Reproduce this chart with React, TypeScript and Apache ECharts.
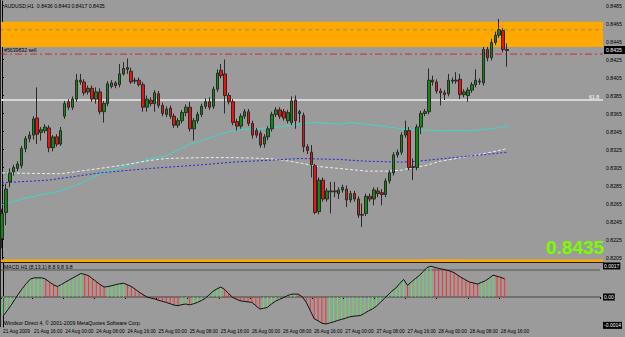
import React, { useEffect, useRef } from 'react';
import * as echarts from 'echarts';

const headerText = 'AUDUSD,H1  0.8436 0.8443 0.8417 0.8435';
const macdTitle = 'MACD H1 (8,13,1) 8.8 9.8 9.8';
const footerText = 'Windsor Direct 4, \u00a9 2001-2009 MetaQuotes Software Corp.';
const orderLabel = '#5639832 sell';
const fiboLabel = '61.8';
const lastPriceText = '0.8435';

const timeTickLabels = [
  '21 Aug 2009', '21 Aug 16:00', '24 Aug 00:00', '24 Aug 08:00', '24 Aug 16:00',
  '25 Aug 00:00', '25 Aug 08:00', '25 Aug 16:00', '26 Aug 00:00', '26 Aug 08:00',
  '26 Aug 16:00', '27 Aug 00:00', '27 Aug 08:00', '27 Aug 16:00', '28 Aug 00:00',
  '28 Aug 08:00', '28 Aug 16:00',
];

const priceTicks = [0.8205, 0.8225, 0.8245, 0.8265, 0.8285, 0.8305, 0.8325, 0.8345, 0.8365, 0.8385, 0.8405, 0.8425, 0.8445, 0.8465, 0.8485];

const opens = [
  0.8226, 0.8255, 0.8289, 0.8300, 0.8304, 0.8307, 0.8326, 0.8337, 0.8341, 0.8360,
  0.8344, 0.8346, 0.8349, 0.8327, 0.8339, 0.8331, 0.8362, 0.8378, 0.8372, 0.8381,
  0.8402, 0.8400, 0.8389, 0.8393, 0.8381, 0.8389, 0.8367, 0.8376, 0.8395, 0.8399,
  0.8397, 0.8409, 0.8416, 0.8412, 0.8401, 0.8402, 0.8397, 0.8372, 0.8380, 0.8376,
  0.8387, 0.8374, 0.8364, 0.8371, 0.8362, 0.8352, 0.8357, 0.8366, 0.8372, 0.8348,
  0.8357, 0.8364, 0.8373, 0.8378, 0.8373, 0.8392, 0.8413, 0.8409, 0.8385, 0.8378,
  0.8356, 0.8351, 0.8362, 0.8367, 0.8354, 0.8346, 0.8343, 0.8331, 0.8339, 0.8348,
  0.8364, 0.8369, 0.8367, 0.8357, 0.8355, 0.8380, 0.8365, 0.8363, 0.8328, 0.8322,
  0.8307, 0.8256, 0.8291, 0.8270, 0.8278, 0.8278, 0.8276, 0.8280, 0.8281, 0.8269,
  0.8276, 0.8270, 0.8253, 0.8254, 0.8273, 0.8270, 0.8279, 0.8277, 0.8275, 0.8290,
  0.8299, 0.8319, 0.8322, 0.8341, 0.8346, 0.8305, 0.8305, 0.8350, 0.8365, 0.8367,
  0.8402, 0.8400, 0.8390, 0.8388, 0.8387, 0.8402, 0.8401, 0.8403, 0.8386, 0.8385,
  0.8391, 0.8397, 0.8401, 0.8399, 0.8436, 0.8427, 0.8444, 0.8452, 0.8457, 0.8436,
];
const closes = [
  0.8254, 0.8281, 0.8299, 0.8305, 0.8309, 0.8326, 0.8337, 0.8341, 0.8359, 0.8342,
  0.8347, 0.8350, 0.8327, 0.8339, 0.8331, 0.8346, 0.8376, 0.8372, 0.8381, 0.8402,
  0.8400, 0.8388, 0.8393, 0.8381, 0.8389, 0.8367, 0.8376, 0.8398, 0.8399, 0.8396,
  0.8409, 0.8415, 0.8414, 0.8400, 0.8402, 0.8397, 0.8372, 0.8381, 0.8376, 0.8388,
  0.8374, 0.8365, 0.8370, 0.8362, 0.8352, 0.8357, 0.8366, 0.8372, 0.8348, 0.8357,
  0.8364, 0.8373, 0.8378, 0.8372, 0.8392, 0.8410, 0.8407, 0.8385, 0.8378, 0.8355,
  0.8351, 0.8362, 0.8367, 0.8354, 0.8341, 0.8341, 0.8330, 0.8339, 0.8348, 0.8364,
  0.8369, 0.8362, 0.8360, 0.8366, 0.8379, 0.8357, 0.8367, 0.8328, 0.8324, 0.8308,
  0.8255, 0.8291, 0.8270, 0.8279, 0.8279, 0.8279, 0.8280, 0.8283, 0.8269, 0.8276,
  0.8270, 0.8252, 0.8252, 0.8273, 0.8270, 0.8280, 0.8276, 0.8275, 0.8290, 0.8299,
  0.8319, 0.8322, 0.8341, 0.8346, 0.8305, 0.8306, 0.8350, 0.8365, 0.8367, 0.8402,
  0.8400, 0.8390, 0.8388, 0.8386, 0.8402, 0.8401, 0.8402, 0.8386, 0.8389, 0.8391,
  0.8397, 0.8402, 0.8400, 0.8436, 0.8427, 0.8444, 0.8452, 0.8458, 0.8436, 0.8435,
];
const lows = [
  0.8215, 0.8241, 0.8283, 0.8296, 0.8301, 0.8304, 0.8322, 0.8333, 0.8336, 0.8331,
  0.8335, 0.8343, 0.8322, 0.8323, 0.8328, 0.8329, 0.8359, 0.8369, 0.8369, 0.8378,
  0.8397, 0.8385, 0.8386, 0.8378, 0.8376, 0.8364, 0.8355, 0.8373, 0.8393, 0.8393,
  0.8394, 0.8407, 0.8409, 0.8398, 0.8398, 0.8395, 0.8367, 0.8367, 0.8373, 0.8367,
  0.8371, 0.8362, 0.8361, 0.8359, 0.8349, 0.8349, 0.8354, 0.8362, 0.8345, 0.8335,
  0.8354, 0.8361, 0.8370, 0.8369, 0.8370, 0.8389, 0.8404, 0.8365, 0.8375, 0.8352,
  0.8346, 0.8348, 0.8359, 0.8351, 0.8337, 0.8338, 0.8327, 0.8327, 0.8335, 0.8345,
  0.8361, 0.8359, 0.8357, 0.8354, 0.8352, 0.8348, 0.8355, 0.8322, 0.8320, 0.8294,
  0.8253, 0.8253, 0.8267, 0.8267, 0.8254, 0.8272, 0.8270, 0.8277, 0.8261, 0.8266,
  0.8267, 0.8249, 0.8239, 0.8251, 0.8267, 0.8263, 0.8272, 0.8263, 0.8272, 0.8287,
  0.8296, 0.8316, 0.8319, 0.8338, 0.8302, 0.8291, 0.8302, 0.8342, 0.8362, 0.8364,
  0.8396, 0.8387, 0.8374, 0.8380, 0.8384, 0.8398, 0.8398, 0.8381, 0.8383, 0.8378,
  0.8388, 0.8394, 0.8397, 0.8396, 0.8423, 0.8424, 0.8441, 0.8449, 0.8433, 0.8417,
];
const highs = [
  0.8259, 0.8287, 0.8304, 0.8308, 0.8312, 0.8329, 0.8340, 0.8345, 0.8362, 0.8394,
  0.8350, 0.8353, 0.8352, 0.8341, 0.8342, 0.8350, 0.8379, 0.8381, 0.8384, 0.8409,
  0.8409, 0.8403, 0.8396, 0.8396, 0.8394, 0.8393, 0.8379, 0.8401, 0.8402, 0.8401,
  0.8420, 0.8422, 0.8426, 0.8416, 0.8405, 0.8405, 0.8400, 0.8385, 0.8383, 0.8391,
  0.8390, 0.8377, 0.8373, 0.8374, 0.8365, 0.8360, 0.8369, 0.8375, 0.8378, 0.8360,
  0.8367, 0.8376, 0.8382, 0.8383, 0.8395, 0.8414, 0.8420, 0.8425, 0.8388, 0.8381,
  0.8359, 0.8365, 0.8370, 0.8370, 0.8357, 0.8349, 0.8346, 0.8342, 0.8351, 0.8367,
  0.8372, 0.8372, 0.8370, 0.8369, 0.8384, 0.8385, 0.8369, 0.8366, 0.8331, 0.8330,
  0.8309, 0.8294, 0.8294, 0.8282, 0.8289, 0.8289, 0.8283, 0.8286, 0.8285, 0.8279,
  0.8279, 0.8273, 0.8265, 0.8276, 0.8276, 0.8283, 0.8283, 0.8281, 0.8293, 0.8302,
  0.8322, 0.8325, 0.8344, 0.8357, 0.8350, 0.8315, 0.8353, 0.8368, 0.8370, 0.8415,
  0.8407, 0.8403, 0.8393, 0.8391, 0.8409, 0.8405, 0.8411, 0.8409, 0.8392, 0.8394,
  0.8400, 0.8414, 0.8404, 0.8439, 0.8439, 0.8448, 0.8456, 0.8470, 0.8460, 0.8443,
];

// moving averages: [bar index, price]
const maCyan = [
  [0, 0.8264], [7, 0.8272], [15, 0.8279], [20, 0.8287], [25, 0.8298], [32, 0.8307],
  [38, 0.8315], [42, 0.8318], [48, 0.8331], [51, 0.8335], [55, 0.8341], [59, 0.8346],
  [64, 0.8348], [69, 0.8349], [74, 0.8352], [79, 0.8355], [81, 0.8355], [86, 0.8353],
  [89, 0.8355], [91, 0.8354], [97, 0.8351], [102, 0.8348], [104, 0.8347], [112, 0.8346],
  [120, 0.8346], [125, 0.8348], [129, 0.8351],
];
const maWhite = [
  [0, 0.8299], [15, 0.8298], [20, 0.8301], [30, 0.8307], [38, 0.8313], [42, 0.8315],
  [51, 0.8316], [59, 0.8316], [68, 0.8315], [72, 0.8313], [76, 0.8310], [81, 0.8306],
  [86, 0.8304], [93, 0.8301], [98, 0.8301], [102, 0.8302], [104, 0.8304], [108, 0.8307],
  [112, 0.8312], [116, 0.8315], [120, 0.8318], [125, 0.8322], [129, 0.8326],
];
const maBlue = [
  [0, 0.8288], [12, 0.8291], [25, 0.8299], [38, 0.8304], [51, 0.8308], [59, 0.8311],
  [68, 0.8313], [76, 0.8315], [86, 0.8314], [93, 0.8312], [102, 0.8311], [106, 0.8312],
  [113, 0.8315], [120, 0.8318], [129, 0.8322],
];

// MACD main values per bar (x 0.0001)
const macd = [
  -7.1, -5.2, -3.2, -1.0, 1.2, 3.2, 5.0, 6.6, 7.1, 7.1,
  7.1, 6.6, 5.5, 4.5, 3.9, 4.6, 5.5, 6.3, 7.1, 7.9,
  8.7, 8.4, 7.9, 6.8, 5.7, 4.6, 3.7, 3.9, 4.2, 4.6,
  4.9, 5.1, 4.5, 3.9, 2.9, 1.8, 0.9, 0.0, -0.4, -0.7,
  -1.2, -1.6, -2.0, -2.5, -3.0, -3.2, -2.8, -2.6, -2.9, -2.5,
  -2.0, -1.3, -0.5, 0.8, 2.1, 3.0, 3.7, 2.8, 1.3, -0.1,
  -0.8, -1.4, -1.6, -1.8, -2.0, -3.2, -4.4, -4.2, -3.8, -2.6,
  -1.6, -0.9, -0.3, 0.4, 1.0, 1.1, 1.0, 0.0, -2.0, -5.0,
  -8.0, -8.8, -9.7, -10.0, -9.6, -9.2, -8.7, -8.3, -7.9, -7.4,
  -7.1, -7.0, -6.8, -6.0, -5.1, -4.4, -3.4, -2.0, -0.6, 0.8,
  2.2, 3.3, 5.0, 6.5, 4.3, 5.6, 6.8, 7.9, 9.4, 10.9,
  11.4, 11.0, 10.6, 10.3, 10.0, 9.6, 9.0, 8.0, 7.1, 6.3,
  5.5, 5.2, 4.8, 5.4, 6.0, 7.0, 8.1, 7.7, 7.3, 6.7,
];
const macdLevel = 10;

const bandTop = 0.8467;
const bandBottom = 0.8439;
const bandMid = 0.8458;
const sellLevel = 0.8431;
const fiboLevel = 0.8380;
const floorLevel = 0.8201;

const SLOTS = 154;
const FONT = 'Liberation Sans, Arial, sans-serif';

export default function App() {
  const ref = useRef<HTMLDivElement>(null);
  useEffect(() => {
    document.body.style.margin = '0';
    const chart = echarts.init(ref.current!, null, { renderer: 'svg' });
    const slots = Array.from({ length: SLOTS }, (_, i) => String(i));
    const candles = opens.map((o, i) => [o, closes[i], lows[i], highs[i]]);
    const showTick = (i: number) => i % 8 === 0 && i / 8 < timeTickLabels.length;
    const hLine = (level: number, xIdx: number, yIdx: number, lineStyle: any, z = 2) => ({
      type: 'line', xAxisIndex: xIdx, yAxisIndex: yIdx, showSymbol: false, silent: true, z,
      data: [[-0.5, level], [SLOTS - 0.5, level]], lineStyle,
    });
    chart.setOption({
      animation: false,
      backgroundColor: '#9b9b9b',
      grid: [
        { left: 0, top: 1, width: 603, height: 261 },
        { left: 0, top: 263, width: 603, height: 64 },
      ],
      xAxis: [
        { type: 'category', gridIndex: 0, data: slots, boundaryGap: true, show: false },
        { type: 'value', gridIndex: 0, min: -0.5, max: SLOTS - 0.5, show: false },
        {
          type: 'category', gridIndex: 1, data: slots, boundaryGap: true,
          axisLine: { show: true, lineStyle: { color: '#000', width: 1 } },
          axisTick: { show: true, interval: (i: number) => showTick(i), length: 2, lineStyle: { color: '#000' } },
          axisLabel: {
            show: true, interval: (i: number) => showTick(i), align: 'left', margin: 2,
            fontSize: 4.8, color: '#000', fontFamily: FONT,
            formatter: (_v: string, i: number) => timeTickLabels[i / 8] || '',
          },
        },
        { type: 'value', gridIndex: 1, min: -0.5, max: SLOTS - 0.5, show: false },
      ],
      yAxis: [
        {
          type: 'value', gridIndex: 0, position: 'right', min: 0.82, max: 0.849,
          splitLine: { show: false },
          axisLine: { show: true, lineStyle: { color: '#000' } },
          axisTick: { show: true, length: 2, customValues: priceTicks, lineStyle: { color: '#000' } },
          axisLabel: {
            show: true, customValues: priceTicks, fontSize: 5.2, color: '#000', margin: 3, fontFamily: FONT,
            formatter: (v: number) => v.toFixed(4),
          },
        },
        {
          type: 'value', gridIndex: 1, position: 'right', min: -11.1, max: 12.6,
          splitLine: { show: false },
          axisLine: { show: true, lineStyle: { color: '#000' } },
          axisTick: { show: false },
          axisLabel: {
            show: true, customValues: [11.5, 0, -10.5], fontSize: 5, color: '#fff', margin: 3, fontFamily: FONT,
            backgroundColor: '#000', padding: [1, 1],
            formatter: (v: number) => (v === 0 ? '0.00' : v > 0 ? '0.0017' : '-0.0014'),
          },
        },
      ],
      series: [
        {
          type: 'line', xAxisIndex: 1, yAxisIndex: 0, silent: true, z: 1, showSymbol: false,
          data: [[-0.5, bandBottom], [SLOTS - 0.5, bandBottom]],
          lineStyle: { width: 0, opacity: 0 },
          markArea: {
            silent: true,
            itemStyle: { color: '#ffa800', opacity: 1 },
            data: [[{ yAxis: bandBottom }, { yAxis: bandTop }]],
          },
        },
        hLine(bandMid, 1, 0, { color: '#b08850', type: [4, 3], width: 1 }),
        hLine(sellLevel, 1, 0, { color: '#d8243c', type: [7, 3, 2, 3], width: 1 }),
        hLine(fiboLevel, 1, 0, { color: '#d6d6d6', type: 'solid', width: 2 }),
        hLine(floorLevel, 1, 0, { color: '#ffa800', type: 'solid', width: 3 }),
        {
          type: 'line', xAxisIndex: 1, yAxisIndex: 0, data: maCyan, showSymbol: false, z: 3,
          lineStyle: { color: '#3fd6c8', width: 1 },
        },
        {
          type: 'line', xAxisIndex: 1, yAxisIndex: 0, data: maWhite, showSymbol: false, z: 3,
          lineStyle: { color: '#ececec', width: 1, type: [3, 2] },
        },
        {
          type: 'line', xAxisIndex: 1, yAxisIndex: 0, data: maBlue, showSymbol: false, z: 3,
          lineStyle: { color: '#2424e0', width: 1, type: [2, 2] },
        },
        {
          type: 'candlestick', xAxisIndex: 0, yAxisIndex: 0, data: candles, barWidth: 3, z: 4,
          itemStyle: { color: '#118a11', color0: '#f01010', borderColor: '#2a2a2a', borderColor0: '#2a2a2a', borderWidth: 1 },
        },
        hLine(0, 3, 1, { color: '#6e6e6e', type: 'solid', width: 2 }, 1),
        hLine(macdLevel, 3, 1, { color: '#555', type: 'solid', width: 1 }, 1),
        {
          type: 'bar', xAxisIndex: 2, yAxisIndex: 1, data: macd, barWidth: 1, z: 2,
          itemStyle: {
            color: (p: any) => (p.dataIndex === 0 || macd[p.dataIndex] >= macd[p.dataIndex - 1] ? '#5fe05f' : '#ff3030'),
          },
        },
        {
          type: 'line', xAxisIndex: 2, yAxisIndex: 1, data: macd, showSymbol: false, z: 3,
          lineStyle: { color: '#111', width: 1 },
        },
      ],
      graphic: [
        { type: 'line', shape: { x1: 0.5, y1: 0, x2: 0.5, y2: 327 }, style: { stroke: '#222', lineWidth: 1 }, z: 10 },
        { type: 'line', shape: { x1: 0, y1: 262.5, x2: 604, y2: 262.5 }, style: { stroke: '#222', lineWidth: 1 }, z: 10 },
        { type: 'text', x: 4, y: 3, style: { text: headerText, fontSize: 5.2, fill: '#000', fontFamily: FONT }, z: 10 },
        { type: 'text', x: 4, y: 47, style: { text: orderLabel, fontSize: 5.2, fill: '#000', fontFamily: FONT }, z: 10 },
        { type: 'text', x: 589, y: 94, style: { text: fiboLabel, fontSize: 5.2, fill: '#fff', fontFamily: FONT }, z: 10 },
        { type: 'text', x: 546, y: 238, style: { text: lastPriceText, fontSize: 19, fontWeight: 'bold', fill: '#7cfc00', fontFamily: FONT }, z: 10 },
        { type: 'rect', shape: { x: 604, y: 46, width: 21, height: 8 }, style: { fill: '#000' }, z: 10 },
        { type: 'text', x: 606, y: 47.5, style: { text: lastPriceText, fontSize: 5.2, fill: '#fff', fontFamily: FONT }, z: 11 },
        { type: 'text', x: 4, y: 264, style: { text: macdTitle, fontSize: 5.2, fill: '#000', fontFamily: FONT }, z: 10 },
        { type: 'text', x: 4, y: 320, style: { text: footerText, fontSize: 5.2, fill: '#000', fontFamily: FONT }, z: 10 },
      ],
    });
    return () => chart.dispose();
  }, []);
  return <div ref={ref} style={{ position: 'absolute', left: 0, top: 0, width: 625, height: 337 }} />;
}
